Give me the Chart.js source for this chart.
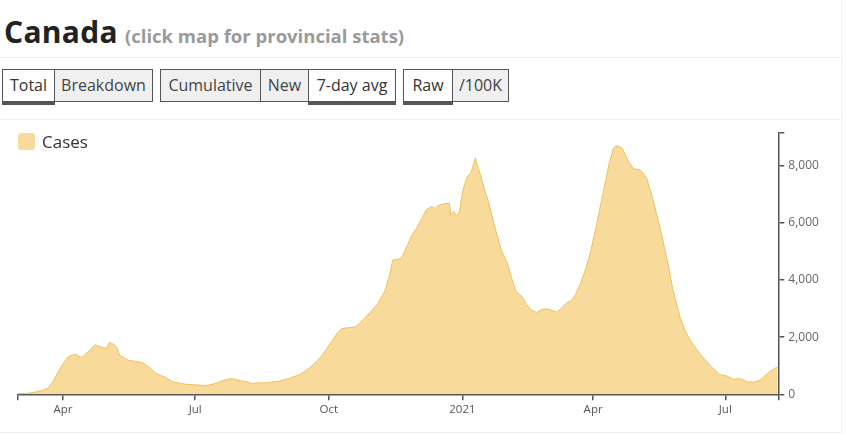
<!DOCTYPE html>
<html>
<head>
<meta charset="utf-8">
<script src="https://cdn.jsdelivr.net/npm/chart.js@4"></script>
<style>
  html, body { margin:0; padding:0; background:#fff; width:846px; height:434px; overflow:hidden; }
  body { font-family: "Open Sans", "Noto Sans", sans-serif; color:#333; position:relative; }
  .title { position:absolute; left:4px; top:11px; white-space:nowrap; }
  .title .main { font-size:30px; font-weight:700; color:#222; letter-spacing:0.3px; }
  .title .sub { font-size:18.5px; font-weight:700; color:#9a9a9a; margin-left:7px; }
  .hline { position:absolute; left:0; width:841px; height:1px; background:#efefef; }
  .vline { position:absolute; left:841px; top:0; width:1px; height:433px; background:#f3f3f3; }
  .group { position:absolute; top:69px; height:31px; border:1px solid #555; display:flex; box-sizing:content-box; }
  .btn { height:31px; line-height:31px; text-align:center; font-size:16px; color:#444; background:#f0f0f0; box-sizing:border-box; position:relative; }
  .btn + .btn { border-left:1px solid #555; }
  .btn.sel { background:#fff; color:#333; }
  .btn.sel::after { content:""; position:absolute; left:-1px; right:-1px; bottom:-4px; height:3px; background:#555; }
  #wrap { position:absolute; left:0; top:120px; width:841px; height:312px; }
  .legend { position:absolute; left:18px; top:133px; display:flex; align-items:center; height:17px; }
  .legend .box { width:17px; height:17px; border-radius:3px; background:rgb(248,218,155); }
  .legend .lab { margin-left:7px; font-size:17px; line-height:17px; color:#333; }
</style>
</head>
<body>
<div class="title"><span class="main">Canada</span><span class="sub">(click map for provincial stats)</span></div>
<div class="hline" style="top:57px"></div>
<div class="hline" style="top:119px"></div>
<div class="hline" style="top:432px"></div>
<div class="vline"></div>

<div class="group" style="left:2px">
  <div class="btn sel" style="width:51px">Total</div>
  <div class="btn" style="width:98px">Breakdown</div>
</div>
<div class="group" style="left:160px">
  <div class="btn" style="width:99px">Cumulative</div>
  <div class="btn" style="width:48px">New</div>
  <div class="btn sel" style="width:87px">7-day avg</div>
</div>
<div class="group" style="left:403px">
  <div class="btn sel" style="width:48px">Raw</div>
  <div class="btn" style="width:56px">/100K</div>
</div>

<div id="wrap"><canvas id="c"></canvas></div>
<div class="legend"><div class="box"></div><div class="lab">Cases</div></div>

<script>
// Days since 2020-03-01 (7-day average of new cases, Canada)
const days = [0,6,12,17,21,24,28,32,35,38,40,43,45,49,53,56,61,63,66,68,70,73,76,81,86,91,95,101,107,112,116,122,129,133,137,141,146,149,153,157,161,166,171,175,180,187,194,201,208,212,216,220,223,228,232,236,240,244,248,253,256,258,261,264,268,271,275,278,281,285,287,290,293,297,298,300,302,304,306,309,312,315,316,318,321,324,327,330,333,337,340,343,347,350,353,357,361,365,368,371,375,378,381,384,387,391,394,398,403,407,410,412,416,418,420,424,428,431,433,435,437,442,447,451,456,460,464,470,477,483,488,493,496,499,502,507,510,513,518,523];
const cases = [20,30,80,140,220,450,810,1150,1330,1380,1390,1300,1330,1520,1730,1680,1600,1820,1740,1650,1360,1280,1190,1150,1100,920,730,600,430,380,350,330,310,340,400,480,545,530,475,440,380,400,400,430,460,560,695,930,1270,1550,1855,2150,2300,2330,2350,2520,2740,2950,3190,3650,4200,4700,4720,4750,5200,5550,5850,6150,6450,6570,6500,6620,6660,6680,6260,6400,6220,6400,7070,7590,7770,8270,8050,7750,7200,6720,6100,5550,5000,4580,4050,3590,3420,3150,2960,2860,2980,2980,2930,2870,3050,3210,3270,3500,3830,4400,4930,5850,7070,8060,8610,8700,8610,8400,8170,7880,7860,7700,7540,7200,6840,5850,4700,3650,2670,2150,1800,1390,985,695,640,520,555,520,430,430,480,580,810,960];

// X tick positions (days since 2020-03-01) and their labels
const xTickDays = [31,122,214,306,396,487];
const xTickLabels = ["Apr","Jul","Oct","2021","Apr","Jul"];
const xMax = 523.5;

// Y ticks
const yTicks = [0,2000,4000,6000,8000];
const yMax = 9150;

const points = days.map((d,i) => ({x:d, y:cases[i]}));
const axisColor = '#555';
const tickFont = { family: '"Open Sans", "Noto Sans", sans-serif', size: 11.5 };

new Chart(document.getElementById('c'), {
  type: 'line',
  data: {
    datasets: [{
      label: 'Cases',
      data: points,
      fill: 'origin',
      backgroundColor: 'rgb(248,218,155)',
      borderColor: 'rgb(240,192,95)',
      borderWidth: 1,
      pointRadius: 0,
      tension: 0
    }]
  },
  options: {
    responsive: true,
    maintainAspectRatio: false,
    animation: false,
    events: [],
    layout: { padding: { left: 18, top: 12.7, right: 0, bottom: 0 } },
    plugins: { legend: { display: false }, tooltip: { enabled: false } },
    scales: {
      x: {
        type: 'linear',
        min: 0,
        max: xMax,
        border: { display: true, color: axisColor, width: 1.5 },
        grid: { drawOnChartArea: false, drawTicks: true, tickLength: 6, color: axisColor, lineWidth: 1.5 },
        afterBuildTicks: (s) => { s.ticks = [0, ...xTickDays, xMax].map(v => ({value: v})); },
        afterFit: (s) => { s.height = 37.7; },
        ticks: {
          autoSkip: false,
          maxRotation: 0,
          padding: 3,
          color: '#555',
          font: tickFont,
          callback: (v) => { const i = xTickDays.indexOf(v); return i >= 0 ? xTickLabels[i] : ''; }
        }
      },
      y: {
        position: 'right',
        min: 0,
        max: yMax,
        border: { display: true, color: axisColor, width: 1.5 },
        grid: { drawOnChartArea: false, drawTicks: true, tickLength: 6, color: axisColor, lineWidth: 1.5 },
        afterBuildTicks: (s) => { s.ticks = [...yTicks, yMax].map(v => ({value: v})); },
        afterFit: (s) => { s.width = 62.7; },
        ticks: {
          padding: 4,
          color: '#666',
          font: { family: tickFont.family, size: 12 },
          callback: (v) => yTicks.includes(v) ? v.toLocaleString('en-US') : ''
        }
      }
    }
  }
});
</script>
</body>
</html>
